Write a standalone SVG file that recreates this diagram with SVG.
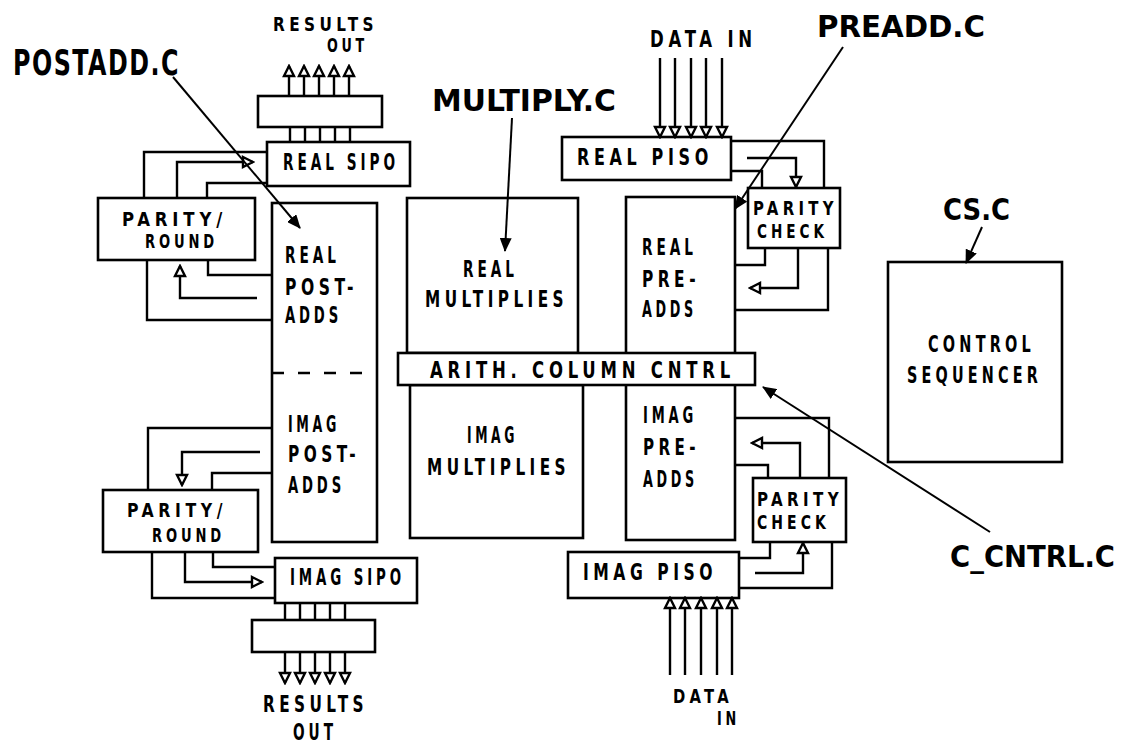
<svg xmlns="http://www.w3.org/2000/svg" width="1124" height="743" viewBox="0 0 1124 743">
<style>
.b{fill:#fff;stroke:#000;stroke-width:2.6}
.c{fill:none;stroke:#000;stroke-width:2.4}
.p{fill:none;stroke:#000;stroke-width:2}
text{font-family:"DejaVu Sans Condensed","DejaVu Sans","Liberation Sans",sans-serif;font-weight:bold;fill:#000;font-size:23px;letter-spacing:6px}
.s{font-size:19px;letter-spacing:5px}
.L{font-size:35px;letter-spacing:2px}
.M{font-size:31px;letter-spacing:0px}
</style>
<defs>
<marker id="t" markerUnits="userSpaceOnUse" viewBox="-2 -2 14 14" markerWidth="14" markerHeight="14" refX="10" refY="5" orient="auto">
<path d="M0,0 L10,5 L0,10 Z" fill="#fff" stroke="#000" stroke-width="2.4" stroke-linejoin="miter"/>
</marker>
<marker id="f" markerUnits="userSpaceOnUse" viewBox="0 0 14 12" markerWidth="14" markerHeight="12" refX="13" refY="6" orient="auto">
<path d="M0,0 L14,6 L0,12 Z" fill="#000"/>
</marker>
</defs>

<g id="results-out-top">
<rect class="b" x="258" y="96" width="124" height="31"/>
<text class="s" x="273" y="31" textLength="105" lengthAdjust="spacingAndGlyphs">RESULTS</text>
<text class="s" x="327" y="52" textLength="41" lengthAdjust="spacingAndGlyphs">OUT</text>
</g>
<g id="real-sipo">
<rect class="b" x="267" y="142" width="143" height="44"/>
<text x="283" y="170" textLength="116" lengthAdjust="spacingAndGlyphs">REAL  SIPO</text>
</g>
<g id="parity-round-top">
<rect class="b" x="98" y="198" width="157" height="62"/>
<text class="s" x="122" y="226" textLength="105" lengthAdjust="spacingAndGlyphs">PARITY/</text>
<text class="s" x="145" y="248" textLength="73" lengthAdjust="spacingAndGlyphs">ROUND</text>
</g>
<g id="post-adds">
<rect class="b" x="272" y="203" width="105" height="339"/>
<path d="M272,373H377" fill="none" stroke="#000" stroke-width="2.4" stroke-dasharray="12,14"/>
<text x="285" y="263" textLength="55" lengthAdjust="spacingAndGlyphs">REAL</text>
<text x="285" y="295" textLength="73" lengthAdjust="spacingAndGlyphs">POST-</text>
<text x="285" y="323" textLength="57" lengthAdjust="spacingAndGlyphs">ADDS</text>
<text x="288" y="432" textLength="52" lengthAdjust="spacingAndGlyphs">IMAG</text>
<text x="288" y="462" textLength="72" lengthAdjust="spacingAndGlyphs">POST-</text>
<text x="288" y="493" textLength="57" lengthAdjust="spacingAndGlyphs">ADDS</text>
</g>
<g id="parity-round-bottom">
<rect class="b" x="103" y="490" width="155" height="62"/>
<text class="s" x="127" y="517" textLength="100" lengthAdjust="spacingAndGlyphs">PARITY/</text>
<text class="s" x="152" y="542" textLength="73" lengthAdjust="spacingAndGlyphs">ROUND</text>
</g>
<g id="imag-sipo">
<rect class="b" x="275" y="558" width="142" height="45"/>
<text x="290" y="585" textLength="115" lengthAdjust="spacingAndGlyphs">IMAG  SIPO</text>
</g>
<g id="results-out-bottom">
<rect class="b" x="252" y="620" width="123" height="32"/>
<text x="263" y="712" textLength="105" lengthAdjust="spacingAndGlyphs">RESULTS</text>
<text x="293" y="740" textLength="44" lengthAdjust="spacingAndGlyphs">OUT</text>
</g>
<g id="real-multiplies">
<rect class="b" x="407" y="198" width="171" height="155"/>
<text x="463" y="277" textLength="55" lengthAdjust="spacingAndGlyphs">REAL</text>
<text x="425" y="307" textLength="143" lengthAdjust="spacingAndGlyphs">MULTIPLIES</text>
</g>
<g id="imag-multiplies">
<rect class="b" x="410" y="385" width="173" height="153"/>
<text x="467" y="443" textLength="51" lengthAdjust="spacingAndGlyphs">IMAG</text>
<text x="427" y="475" textLength="143" lengthAdjust="spacingAndGlyphs">MULTIPLIES</text>
</g>
<g id="pre-adds">
<rect class="b" x="626" y="197" width="109" height="343"/>
<text x="642" y="255" textLength="55" lengthAdjust="spacingAndGlyphs">REAL</text>
<text x="642" y="287" textLength="58" lengthAdjust="spacingAndGlyphs">PRE-</text>
<text x="642" y="317" textLength="55" lengthAdjust="spacingAndGlyphs">ADDS</text>
<text x="643" y="423" textLength="54" lengthAdjust="spacingAndGlyphs">IMAG</text>
<text x="643" y="455" textLength="57" lengthAdjust="spacingAndGlyphs">PRE-</text>
<text x="643" y="487" textLength="55" lengthAdjust="spacingAndGlyphs">ADDS</text>
</g>
<g id="arith-column-cntrl">
<rect class="b" x="398" y="353" width="357" height="32"/>
<text x="430" y="378" textLength="305" lengthAdjust="spacingAndGlyphs">ARITH.  COLUMN  CNTRL</text>
</g>
<g id="real-piso">
<rect class="b" x="562" y="137" width="169" height="43"/>
<text x="577" y="165" textLength="136" lengthAdjust="spacingAndGlyphs">REAL  PISO</text>
<text x="650" y="47" textLength="107" lengthAdjust="spacingAndGlyphs">DATA  IN</text>
</g>
<g id="parity-check-top">
<rect class="b" x="748" y="188" width="92" height="60"/>
<text class="s" x="753" y="215" textLength="85" lengthAdjust="spacingAndGlyphs">PARITY</text>
<text class="s" x="757" y="238" textLength="71" lengthAdjust="spacingAndGlyphs">CHECK</text>
</g>
<g id="parity-check-bottom">
<rect class="b" x="753" y="478" width="93" height="64"/>
<text class="s" x="757" y="506" textLength="86" lengthAdjust="spacingAndGlyphs">PARITY</text>
<text class="s" x="757" y="529" textLength="73" lengthAdjust="spacingAndGlyphs">CHECK</text>
</g>
<g id="imag-piso">
<rect class="b" x="568" y="552" width="171" height="46"/>
<text x="583" y="580" textLength="134" lengthAdjust="spacingAndGlyphs">IMAG  PISO</text>
<text class="s" x="673" y="703" textLength="60" lengthAdjust="spacingAndGlyphs">DATA</text>
<text class="s" x="717" y="725" textLength="23" lengthAdjust="spacingAndGlyphs">IN</text>
</g>
<g id="control-sequencer">
<rect class="b" x="888" y="262" width="174" height="200"/>
<text x="928" y="352" textLength="107" lengthAdjust="spacingAndGlyphs">CONTROL</text>
<text x="907" y="383" textLength="135" lengthAdjust="spacingAndGlyphs">SEQUENCER</text>
</g>
<g id="labels">
<text class="L" x="13" y="75" textLength="167" lengthAdjust="spacingAndGlyphs">POSTADD.C</text>
<text class="M" x="432" y="111" textLength="184" lengthAdjust="spacingAndGlyphs">MULTIPLY.C</text>
<text class="M" x="817" y="37" textLength="168" lengthAdjust="spacingAndGlyphs">PREADD.C</text>
<text class="M" x="943" y="220" textLength="67" lengthAdjust="spacingAndGlyphs">CS.C</text>
<text class="M" x="950" y="567" textLength="165" lengthAdjust="spacingAndGlyphs">C_CNTRL.C</text>
</g>

<g id="connectors">
<path class="c" marker-end="url(#t)" d="M289,96V66"/>
<path class="c" marker-end="url(#t)" d="M304,96V66"/>
<path class="c" marker-end="url(#t)" d="M319,96V66"/>
<path class="c" marker-end="url(#t)" d="M334,96V66"/>
<path class="c" marker-end="url(#t)" d="M349,96V66"/>
<path class="c" d="M290,127V142M305,127V142M320,127V142M335,127V142M350,127V142"/>
<path class="c" d="M267,152H144V198"/>
<path class="c" marker-end="url(#t)" d="M177,198V162H253"/>
<path class="c" d="M207,198V183H267"/>
<path class="c" d="M208,260V275H272"/>
<path class="c" marker-end="url(#t)" d="M257,298H180V266"/>
<path class="c" d="M147,260V320H272"/>
<path class="c" d="M272,428H148V490"/>
<path class="c" marker-end="url(#t)" d="M260,452H182V485"/>
<path class="c" d="M272,473H212V490"/>
<path class="c" d="M213,552V567H275"/>
<path class="c" marker-end="url(#t)" d="M185,552V582H262"/>
<path class="c" d="M152,552V598H275"/>
<path class="c" d="M285,603V620M300,603V620M315,603V620M330,603V620M345,603V620"/>
<path class="c" marker-end="url(#t)" d="M285,652V683"/>
<path class="c" marker-end="url(#t)" d="M300,652V683"/>
<path class="c" marker-end="url(#t)" d="M315,652V683"/>
<path class="c" marker-end="url(#t)" d="M330,652V683"/>
<path class="c" marker-end="url(#t)" d="M345,652V683"/>
<path class="c" marker-end="url(#t)" d="M660,58V137"/>
<path class="c" marker-end="url(#t)" d="M675,58V137"/>
<path class="c" marker-end="url(#t)" d="M691,58V137"/>
<path class="c" marker-end="url(#t)" d="M706,58V137"/>
<path class="c" marker-end="url(#t)" d="M722,58V137"/>
<path class="c" d="M731,141H824V188"/>
<path class="c" marker-end="url(#t)" d="M747,158H796V187"/>
<path class="c" d="M731,171H762V188"/>
<path class="c" d="M765,248V265H735"/>
<path class="c" marker-end="url(#t)" d="M798,248V288H750"/>
<path class="c" d="M828,248V310H735"/>
<path class="c" d="M735,418H829V478"/>
<path class="c" marker-end="url(#t)" d="M800,478V443H752"/>
<path class="c" d="M735,465H768V478"/>
<path class="c" d="M739,558H770V542"/>
<path class="c" marker-end="url(#t)" d="M755,573H803V543"/>
<path class="c" d="M739,588H832V542"/>
<path class="c" marker-end="url(#t)" d="M670,675V598"/>
<path class="c" marker-end="url(#t)" d="M685,675V598"/>
<path class="c" marker-end="url(#t)" d="M701,675V598"/>
<path class="c" marker-end="url(#t)" d="M717,675V598"/>
<path class="c" marker-end="url(#t)" d="M732,675V598"/>
<path class="p" marker-end="url(#f)" d="M173,77L300,228"/>
<path class="p" marker-end="url(#f)" d="M512,118L505,251"/>
<path class="p" marker-end="url(#f)" d="M843,47L735,209"/>
<path class="p" marker-end="url(#f)" d="M990,532L763,387"/>
<path class="p" marker-end="url(#f)" d="M982,227L966,263"/>
</g>
</svg>
